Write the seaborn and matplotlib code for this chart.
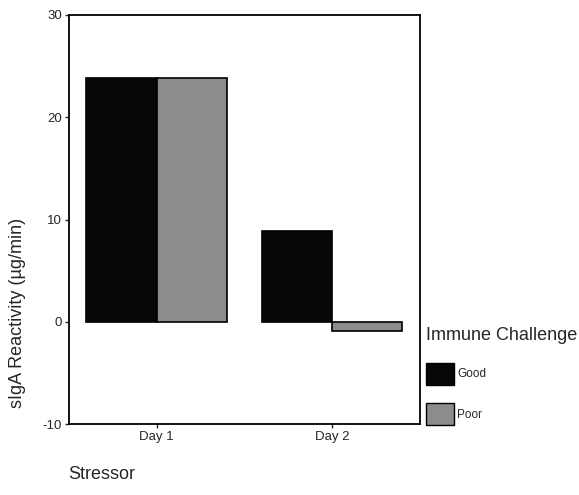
import matplotlib
matplotlib.use("Agg")
import matplotlib.pyplot as plt
import seaborn as sns
import pandas as pd

# data
days = ["Day 1", "Day 1", "Day 2", "Day 2"]
challenge = ["Good", "Poor", "Good", "Poor"]
reactivity = [23.8, 23.8, 8.9, -0.9]

df = pd.DataFrame({"Stressor": days, "Immune Challenge": challenge, "sIgA": reactivity})

sns.set_style("white")
plt.rcParams['font.family'] = ['Liberation Sans', 'DejaVu Sans']
plt.rcParams['axes.unicode_minus'] = False

fig = plt.figure(figsize=(5.79, 4.95), dpi=100)
ax = fig.add_axes([0.119, 0.143, 0.606, 0.827])

sns.barplot(data=df, x="Stressor", y="sIgA", hue="Immune Challenge",
            palette={"Good": "#070707", "Poor": "#8c8c8c"},
            edgecolor="black", linewidth=1.2, saturation=1, width=0.8, ax=ax)

ax.set_xlim(-0.5, 1.5)
ax.set_ylim(-10, 30)
ax.set_yticks([-10, 0, 10, 20, 30])
ax.set_xlabel("")
ax.set_ylabel("")
for s in ax.spines.values():
    s.set_color("black")
    s.set_linewidth(1.3)
ax.tick_params(axis="both", direction="out", length=3, width=1, labelsize=9.5,
               bottom=True, left=True, pad=2)

fig.text(0.03, 0.368, "sIgA Reactivity (\u00b5g/min)", rotation=90, fontsize=13,
         ha="center", va="center")
fig.text(0.117, 0.024, "Stressor", fontsize=13, ha="left", va="bottom")

ax.legend_.remove()
handles = [plt.Rectangle((0, 0), 1, 1, facecolor="#070707", edgecolor="black"),
           plt.Rectangle((0, 0), 1, 1, facecolor="#8c8c8c", edgecolor="black")]
fig.legend(handles, ["Good", "Poor"], title="Immune Challenge",
           loc="upper left", bbox_to_anchor=(0.734, 0.341), frameon=False,
           fontsize=8.5, title_fontsize=13, handlelength=2.4, handleheight=2.5,
           handletextpad=0.25, labelspacing=1.55, borderaxespad=0, borderpad=0.1,
           alignment="left")

fig.savefig("out.png", dpi=100)
